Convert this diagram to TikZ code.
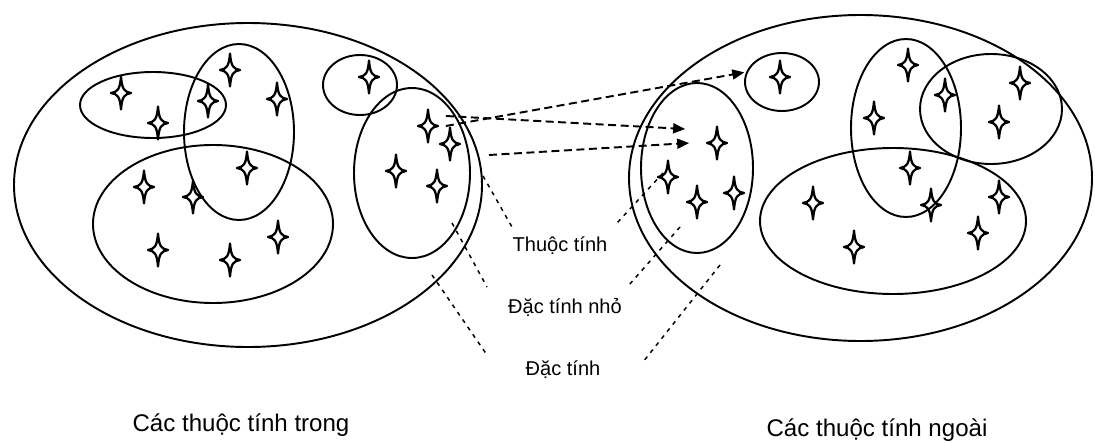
\documentclass[tikz,border=0pt]{standalone}
\usepackage{fontspec}
\setmainfont{Liberation Sans}
\usetikzlibrary{positioning,arrows.meta,shapes.geometric}
\tikzset{
  flowarrow/.style={-{Triangle[length=2.4mm,width=2mm]}, line width=1.1pt, dash pattern=on 1.6mm off 0.9mm},
  leader/.style={line width=0.85pt, dash pattern=on 0.8mm off 1mm},
  setbox/.style={draw, ellipse, line width=1.1pt, inner sep=0},
  sparkle/.style={inner sep=0, minimum width=0.52cm, minimum height=0.78cm,
    path picture={\draw[line width=1.3pt, line join=round, shift={(path picture bounding box.center)}]
      (0,0.33) .. controls (0.02,0.07) and (0.07,0.02) .. (0.2,0)
      .. controls (0.07,-0.02) and (0.02,-0.07) .. (0,-0.33)
      .. controls (-0.02,-0.07) and (-0.07,-0.02) .. (-0.2,0)
      .. controls (-0.07,0.02) and (-0.02,0.07) .. (0,0.33) -- cycle;}},
  notetext/.style={font=\fontsize{11.4}{13}\selectfont, inner sep=1pt},
  sidetitle/.style={font=\fontsize{13.7}{16}\selectfont, inner sep=1pt}
}
\begin{document}
\begin{tikzpicture}
  \useasboundingbox (0,0) rectangle (21.9,-8.86);
  % left side: inner attributes
  \node[setbox, minimum width=9.36cm, minimum height=6.48cm] (inner) at (4.96,-3.70) {};
  \node[setbox, minimum width=2.92cm, minimum height=1.32cm] (lul) at (3.06,-2.10) {};
  \node[setbox, minimum width=2.20cm, minimum height=3.52cm] (lvert) at (4.78,-2.64) {};
  \node[setbox, minimum width=4.80cm, minimum height=3.16cm] (llow) at (4.26,-4.48) {};
  \node[setbox, minimum width=1.48cm, minimum height=1.20cm] (lsmall) at (7.20,-1.70) {};
  \node[setbox, minimum width=2.32cm, minimum height=3.40cm] (ltall) at (8.24,-3.46) {};
  \node[sparkle] (l1) at (2.42,-1.86) {};
  \node[sparkle] (l2) at (3.16,-2.46) {};
  \node[sparkle] (l3) at (4.16,-2.02) {};
  \node[sparkle] (l4) at (4.60,-1.40) {};
  \node[sparkle] (l5) at (5.54,-1.98) {};
  \node[sparkle] (l6) at (4.94,-3.36) {};
  \node[sparkle] (l7) at (2.88,-3.74) {};
  \node[sparkle] (l8) at (3.86,-3.94) {};
  \node[sparkle] (l9) at (3.16,-5.00) {};
  \node[sparkle] (l10) at (4.60,-5.20) {};
  \node[sparkle] (l11) at (5.56,-4.74) {};
  \node[sparkle] (l12) at (7.38,-1.54) {};
  \node[sparkle] (l13) at (8.56,-2.52) {};
  \node[sparkle] (l14) at (9.00,-2.88) {};
  \node[sparkle] (l15) at (7.92,-3.42) {};
  \node[sparkle] (l16) at (8.74,-3.72) {};
  % right side: outer attributes
  \node[setbox, minimum width=9.26cm, minimum height=6.52cm] (outer) at (17.21,-3.56) {};
  \node[setbox, minimum width=2.24cm, minimum height=3.40cm] (rtall) at (13.94,-3.36) {};
  \node[setbox, minimum width=1.48cm, minimum height=1.16cm] (rsmall) at (15.64,-1.64) {};
  \node[setbox, minimum width=2.20cm, minimum height=3.56cm] (rvert) at (18.12,-2.56) {};
  \node[setbox, minimum width=2.84cm, minimum height=2.20cm] (rround) at (19.82,-2.18) {};
  \node[setbox, minimum width=5.32cm, minimum height=2.92cm] (rlow) at (17.86,-4.42) {};
  \node[sparkle] (r1) at (15.60,-1.54) {};
  \node[sparkle] (r2) at (14.34,-2.86) {};
  \node[sparkle] (r3) at (13.36,-3.54) {};
  \node[sparkle] (r4) at (13.94,-4.04) {};
  \node[sparkle] (r5) at (14.68,-3.86) {};
  \node[sparkle] (r6) at (18.16,-1.30) {};
  \node[sparkle] (r7) at (17.48,-2.36) {};
  \node[sparkle] (r8) at (18.90,-1.90) {};
  \node[sparkle] (r9) at (20.40,-1.66) {};
  \node[sparkle] (r10) at (19.98,-2.44) {};
  \node[sparkle] (r11) at (18.20,-3.36) {};
  \node[sparkle] (r12) at (16.26,-4.06) {};
  \node[sparkle] (r13) at (18.62,-4.10) {};
  \node[sparkle] (r14) at (19.98,-3.94) {};
  \node[sparkle] (r15) at (17.08,-4.94) {};
  \node[sparkle] (r16) at (19.56,-4.66) {};
  % labels
  \node[notetext] (attr) at (11.20,-4.92) {Thuộc tính};
  \node[notetext] (subtrait) at (11.30,-6.14) {Đặc tính nhỏ};
  \node[notetext] (trait) at (11.26,-7.40) {Đặc tính};
  \node[sidetitle] (intitle) at (4.82,-8.50) {Các thuộc tính trong};
  \node[sidetitle] (outtitle) at (17.54,-8.60) {Các thuộc tính ngoài};
  % mapping arrows
  \coordinate (a3s) at (9.78,-3.10);
  \draw[flowarrow] ([xshift=0.09cm]l13.east) -- ([xshift=-1pt]rsmall.165);
  \draw[flowarrow] ([shift={(0.09,0.2)}]l13.east) -- ([shift={(-0.37,0.28)}]r2.west);
  \draw[flowarrow] (a3s) -- ([shift={(-0.29,0)}]r2.west);
  % leader lines
  \coordinate (la1) at (9.66,-3.52);  \coordinate (lb1) at (10.24,-4.54);
  \coordinate (la2) at (9.04,-4.46);  \coordinate (lb2) at (9.74,-5.74);
  \coordinate (la3) at (8.64,-5.50);  \coordinate (lb3) at (9.74,-7.10);
  \coordinate (ra1) at (13.26,-3.46); \coordinate (rb1) at (12.34,-4.46);
  \coordinate (ra2) at (13.60,-4.54); \coordinate (rb2) at (12.58,-5.70);
  \coordinate (ra3) at (14.40,-5.30); \coordinate (rb3) at (12.86,-7.24);
  \draw[leader] (la1) -- (lb1);
  \draw[leader] (la2) -- (lb2);
  \draw[leader] (la3) -- (lb3);
  \draw[leader] (ra1) -- (rb1);
  \draw[leader] (ra2) -- (rb2);
  \draw[leader] (ra3) -- (rb3);
\end{tikzpicture}
\end{document}
